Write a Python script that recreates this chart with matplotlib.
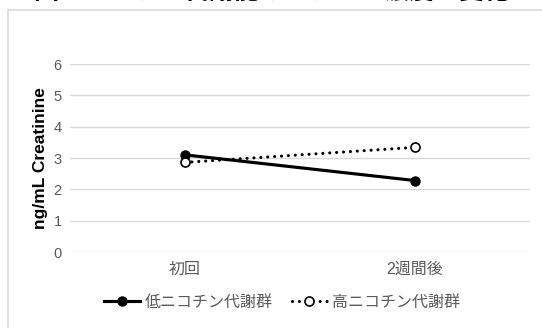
import matplotlib
matplotlib.use('Agg')
import matplotlib.pyplot as plt
from matplotlib.patches import Rectangle

plt.rcParams['font.family'] = ['Liberation Sans', 'Noto Sans CJK JP', 'DejaVu Sans']

# Data
categories = ['初回', '2週間後']
low_group = [3.10, 2.28]
high_group = [2.86, 3.34]
series_names = ['低ニコチン代謝群', '高ニコチン代謝群']
title = '図　ニコチン代謝能とコチニン濃度の変化'
y_label = 'ng/mL Creatinine'
y_ticks = [0, 1, 2, 3, 4, 5, 6]

W, H = 542, 328
fig = plt.figure(figsize=(W / 100, H / 100), dpi=100)

# chart area border (cropped on right and bottom)
fig.patches.append(Rectangle((8 / W, -0.2), 1.5, 1.2 - 10 / H, transform=fig.transFigure,
                             facecolor='white', edgecolor='#d9d9d9', linewidth=1.2, zorder=-1))

# title, mostly cropped off the top
fig.text(0.5, 1 + 1 / H, title, ha='center', va='baseline', fontsize=18,
         fontweight='bold', color='black')

ax = fig.add_axes([70 / W, (H - 252) / H, 460 / W, 188 / H])
x = list(range(len(categories)))

ax.plot(x, low_group, color='black', linewidth=2.25, marker='o', markersize=6.5,
        markerfacecolor='black', markeredgecolor='black', label=series_names[0])
ax.plot(x, high_group, color='black', linewidth=2.25, linestyle=(0, (0.01, 2.2)),
        dash_capstyle='round', marker='o', markersize=6.5, markerfacecolor='white',
        markeredgecolor='black', markeredgewidth=1.2, label=series_names[1])

ax.set_xlim(-0.5, 1.5)
ax.set_ylim(0, 6)
ax.set_xticks(x)
ax.set_xticklabels(categories)
ax.set_yticks(y_ticks)
ax.tick_params(axis='both', length=0, colors='#595959')
ax.tick_params(axis='x', pad=7, labelsize=11.5)
ax.tick_params(axis='y', pad=6, labelsize=10.5)
ax.grid(axis='y', color='#d9d9d9', linewidth=1)
ax.set_axisbelow(True)
for s in ax.spines.values():
    s.set_visible(False)

ax.set_ylabel(y_label, fontsize=12.5, fontweight='bold', color='black', labelpad=4)

ax.legend(loc='center', bbox_to_anchor=(212 / 460, -50 / 188), ncol=2, frameon=False,
          fontsize=11.5, handlelength=2.2, columnspacing=1.2, handletextpad=0.3,
          labelcolor='#595959')

fig.savefig('out.png', dpi=100)
